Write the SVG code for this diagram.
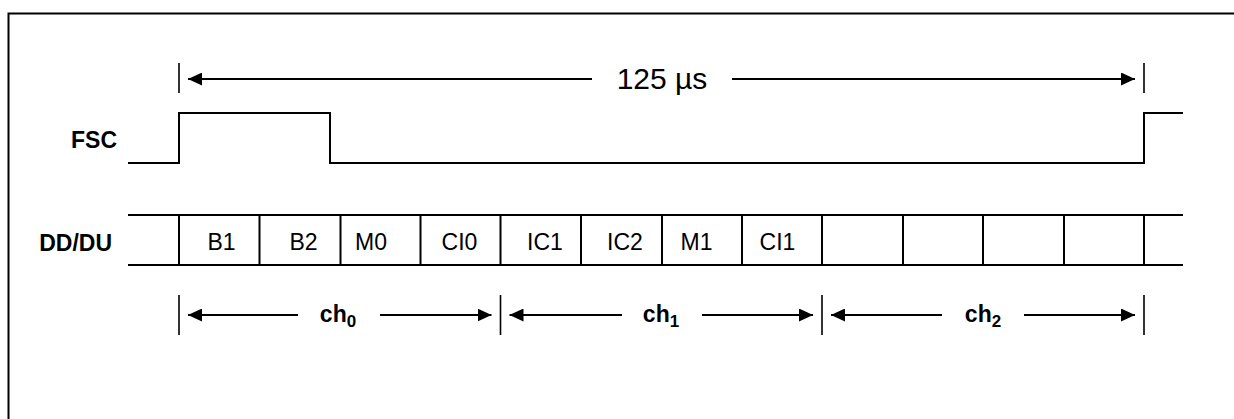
<svg xmlns="http://www.w3.org/2000/svg" width="1234" height="419" viewBox="0 0 1234 419">
<style>
.ln{fill:none;stroke:#000;stroke-width:2;stroke-linecap:butt;stroke-linejoin:miter}
.tk{fill:none;stroke:#000;stroke-width:1.6}
.lbl{font-family:"Liberation Sans",Arial,sans-serif;font-weight:bold;font-size:23px;fill:#000}
.cell{font-family:"Liberation Sans",Arial,sans-serif;font-size:23px;fill:#000;text-anchor:middle}
.ttl{font-family:"Liberation Sans",Arial,sans-serif;font-size:30px;fill:#000;text-anchor:middle}
.ch{font-family:"Liberation Sans",Arial,sans-serif;font-weight:bold;font-size:23px;fill:#000;text-anchor:middle}
.sub{font-size:17px}
</style>
<defs>
<marker id="ah" markerUnits="userSpaceOnUse" markerWidth="14" markerHeight="13" refX="14" refY="6.5" orient="auto-start-reverse" viewBox="0 0 14 13">
<path d="M0,0 L14,6.5 L0,13 Z" fill="#000"/>
</marker>
</defs>
<rect width="1234" height="419" fill="#fff"/>
<g id="frame"><path class="ln" d="M8.5,425 V13.5 H1240"/></g>

<g id="fsc">
<text class="lbl" x="117" y="148" text-anchor="end">FSC</text>
<path class="ln" d="M128,163 H179 V113 H330 V163 H1144 V113 H1183"/>
</g>

<g id="dddu">
<text class="lbl" x="112" y="251" text-anchor="end">DD/DU</text>
<path class="ln" d="M128,215 H1183 M128,265 H1183"/>
<path class="ln" d="M179,215V265 M259.5,215V265 M340.5,215V265 M420.5,215V265 M500.5,215V265 M581,215V265 M662,215V265 M742,215V265 M822,215V265 M903,215V265 M983,215V265 M1064,215V265 M1144,215V265"/>
</g>
<g id="cell-b1"><text class="cell" x="221.5" y="250">B1</text></g>
<g id="cell-b2"><text class="cell" x="303.5" y="250">B2</text></g>
<g id="cell-m0"><text class="cell" x="371" y="250">M0</text></g>
<g id="cell-ci0"><text class="cell" x="459.5" y="250">CI0</text></g>
<g id="cell-ic1"><text class="cell" x="545" y="250">IC1</text></g>
<g id="cell-ic2"><text class="cell" x="625" y="250">IC2</text></g>
<g id="cell-m1"><text class="cell" x="696.5" y="250">M1</text></g>
<g id="cell-ci1"><text class="cell" x="777.5" y="250">CI1</text></g>

<g id="period-label"><text class="ttl" x="662" y="89">125 µs</text></g>
<g id="ch0-label"><text class="ch" x="338" y="322">ch<tspan class="sub" dy="5">0</tspan></text></g>
<g id="ch1-label"><text class="ch" x="661" y="322">ch<tspan class="sub" dy="5">1</tspan></text></g>
<g id="ch2-label"><text class="ch" x="983" y="322">ch<tspan class="sub" dy="5">2</tspan></text></g>

<g id="ticks">
<path class="tk" d="M179,63V93 M1144,63V93"/>
<path class="tk" d="M179,295V335 M500.5,295V335 M822,295V335 M1144,295V335"/>
</g>

<g id="connectors">
<path class="ln" d="M188,79 H592" marker-start="url(#ah)"/>
<path class="ln" d="M732,79 H1135" marker-end="url(#ah)"/>
<path class="ln" d="M188,315 H298" marker-start="url(#ah)"/>
<path class="ln" d="M380,315 H491.5" marker-end="url(#ah)"/>
<path class="ln" d="M509.5,315 H622" marker-start="url(#ah)"/>
<path class="ln" d="M702,315 H813" marker-end="url(#ah)"/>
<path class="ln" d="M831,315 H942" marker-start="url(#ah)"/>
<path class="ln" d="M1024,315 H1135" marker-end="url(#ah)"/>
</g>
</svg>
